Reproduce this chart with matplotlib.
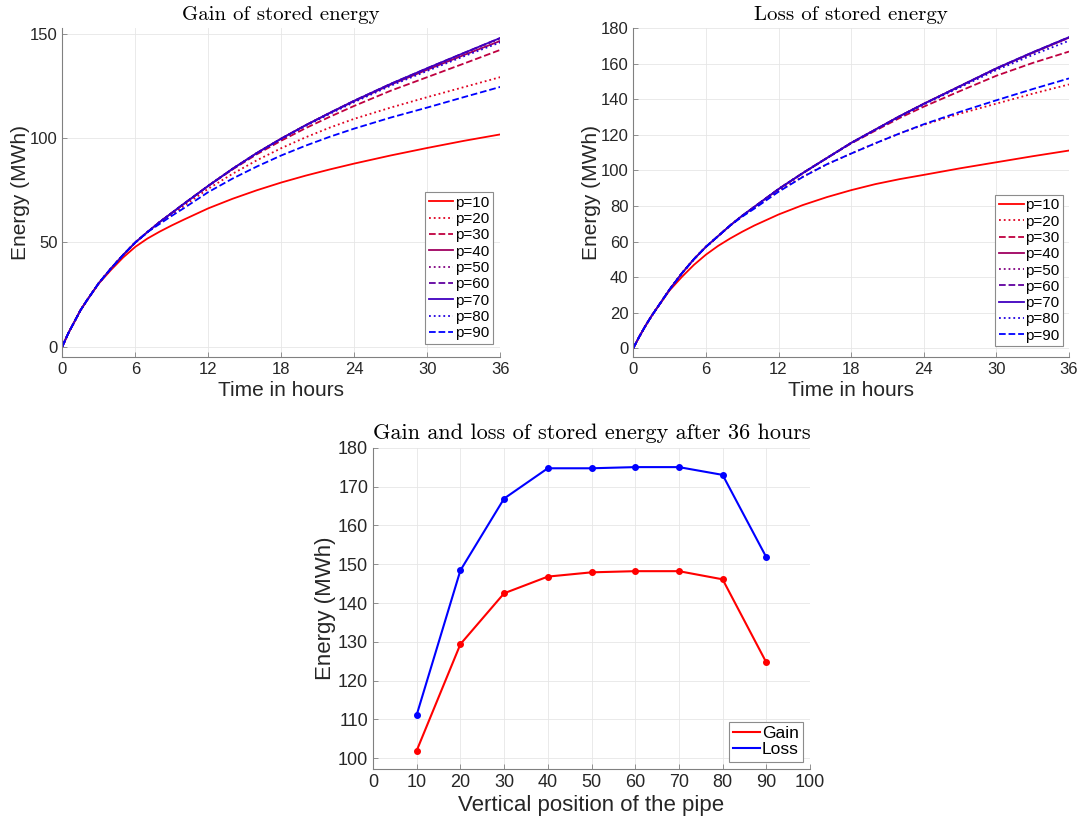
import matplotlib
matplotlib.use("Agg")
import matplotlib.pyplot as plt
from matplotlib.lines import Line2D

# ---------------- data ----------------
t_hours = [0, 0.5, 1, 1.5, 2, 3, 4, 5, 6, 7, 8, 9, 10, 12, 14, 16, 18, 20, 22, 24, 27, 30, 33, 36]
labels = ["p=10", "p=20", "p=30", "p=40", "p=50", "p=60", "p=70", "p=80", "p=90"]

gain_p10 = [0, 6.5, 12, 17.5, 22, 30.3, 36.8, 42.8, 47.9, 51.9, 55.2, 58.2, 61.0, 66.4, 71.0, 75.1, 78.8, 82.1, 85.1, 87.9, 91.8, 95.4, 98.8, 101.9]
gain_p20 = [0, 6.5, 12, 17.5, 22, 30.5, 37.5, 44, 50, 55, 59.6, 63.5, 67.6, 75.8, 83.0, 89.5, 95.3, 100.5, 105.2, 109.4, 114.8, 119.8, 124.6, 129.4]
gain_p30 = [0, 6.5, 12, 17.5, 22, 30.5, 37.5, 44, 50, 55, 59.8, 64.2, 68.6, 77.2, 85.1, 92.4, 98.9, 104.9, 110.4, 115.6, 122.9, 129.4, 135.9, 142.5]
gain_p40 = [0, 6.5, 12, 17.5, 22, 30.5, 37.5, 44, 50, 55, 59.8, 64.2, 68.6, 77.2, 85.4, 93.0, 99.9, 106.3, 112.2, 117.9, 125.8, 133.0, 140.0, 146.8]
gain_p50 = [0, 6.5, 12, 17.5, 22, 30.5, 37.5, 44, 50, 55, 59.8, 64.2, 68.6, 77.2, 85.4, 93.0, 99.9, 106.3, 112.3, 118.0, 126.1, 133.5, 140.8, 147.9]
gain_p60 = [0, 6.5, 12, 17.5, 22, 30.5, 37.5, 44, 50, 55, 59.8, 64.2, 68.6, 77.2, 85.4, 93.0, 99.9, 106.3, 112.3, 118.1, 126.2, 133.7, 141.0, 148.2]
gain_p70 = [0, 6.5, 12, 17.5, 22, 30.5, 37.5, 44, 50, 55, 59.8, 64.2, 68.6, 77.2, 85.4, 93.0, 99.9, 106.3, 112.3, 118.1, 126.2, 133.7, 141.0, 148.2]
gain_p80 = [0, 6.5, 12, 17.5, 22, 30.5, 37.5, 44, 50, 55, 59.8, 64.2, 68.6, 77.2, 85.4, 92.9, 99.7, 106.0, 111.8, 117.4, 125.3, 132.4, 139.4, 146.1]
gain_p90 = [0, 6.5, 12, 17.5, 22, 30.5, 37.5, 44, 50, 55, 58.9, 62.8, 66.5, 74.2, 80.7, 86.5, 91.8, 96.5, 100.8, 104.7, 110.0, 114.8, 119.8, 124.7]

loss_p10 = [0, 6.5, 12.5, 18, 23, 32.5, 40.0, 46.8, 52.6, 57.5, 61.7, 65.5, 69.0, 75.2, 80.5, 85.0, 88.9, 92.3, 95.1, 97.5, 101.2, 104.6, 108.0, 111.2]
loss_p20 = [0, 6.5, 12.5, 18, 23, 33, 42, 50, 57, 63, 69, 74.3, 79.0, 88.5, 96.5, 103.5, 109.5, 115.3, 120.8, 125.7, 132.0, 137.6, 143.2, 148.4]
loss_p30 = [0, 6.5, 12.5, 18, 23, 33, 42, 50, 57, 63, 69, 74.5, 79.5, 89.5, 98.5, 107.0, 115.2, 122.4, 129.5, 135.9, 144.7, 153.3, 160.5, 166.9]
loss_p40 = [0, 6.5, 12.5, 18, 23, 33, 42, 50, 57, 63, 69, 74.5, 79.5, 89.5, 98.5, 107.0, 115.5, 123.0, 130.5, 137.5, 147.4, 157.3, 166.2, 174.7]
loss_p50 = [0, 6.5, 12.5, 18, 23, 33, 42, 50, 57, 63, 69, 74.5, 79.5, 89.5, 98.5, 107.0, 115.5, 123.0, 130.5, 137.5, 147.4, 157.3, 166.2, 174.7]
loss_p60 = [0, 6.5, 12.5, 18, 23, 33, 42, 50, 57, 63, 69, 74.5, 79.5, 89.5, 98.5, 107.0, 115.5, 123.0, 130.5, 137.5, 147.5, 157.5, 166.5, 175.0]
loss_p70 = [0, 6.5, 12.5, 18, 23, 33, 42, 50, 57, 63, 69, 74.5, 79.5, 89.5, 98.5, 107.0, 115.5, 123.0, 130.5, 137.5, 147.5, 157.5, 166.5, 175.0]
loss_p80 = [0, 6.5, 12.5, 18, 23, 33, 42, 50, 57, 63, 69, 74.5, 79.5, 89.5, 98.5, 107.0, 115.4, 122.8, 130.2, 137.1, 146.8, 156.5, 165.0, 173.0]
loss_p90 = [0, 6.5, 12.5, 18, 23, 33, 42, 50, 57, 63, 69, 74.0, 78.5, 88.0, 96.3, 103.5, 109.5, 115.3, 120.8, 126.0, 133.0, 139.5, 145.8, 151.8]

positions = [10, 20, 30, 40, 50, 60, 70, 80, 90]
gain_36h = [102.0, 129.4, 142.5, 146.8, 147.9, 148.2, 148.2, 146.1, 124.7]
loss_36h = [111.2, 148.4, 166.9, 174.7, 174.7, 175.0, 175.0, 173.0, 151.8]

gain_series = [gain_p10, gain_p20, gain_p30, gain_p40, gain_p50, gain_p60, gain_p70, gain_p80, gain_p90]
loss_series = [loss_p10, loss_p20, loss_p30, loss_p40, loss_p50, loss_p60, loss_p70, loss_p80, loss_p90]

# ---------------- style ----------------
line_colors = [(1.0, 0, 0.0), (0.875, 0, 0.125), (0.75, 0, 0.25), (0.625, 0, 0.375),
               (0.5, 0, 0.5), (0.375, 0, 0.625), (0.25, 0, 0.75), (0.125, 0, 0.875), (0.0, 0, 1.0)]
line_styles = ["-", ":", "--"] * 3

SANS = ["Liberation Sans", "DejaVu Sans"]
SERIF = ["cmr10", "DejaVu Serif"]
TXT = (0.15, 0.15, 0.15)
plt.rcParams["font.family"] = SANS
plt.rcParams["axes.unicode_minus"] = False

W, H = 1079, 821
fig = plt.figure(figsize=(W / 100, H / 100), dpi=100)


def ax_at(x0, x1, ytop, ybot):
    return fig.add_axes([x0 / W, 1 - ybot / H, (x1 - x0) / W, (ybot - ytop) / H])


def style(ax, tsize):
    for s in ["top", "right"]:
        ax.spines[s].set_visible(False)
    for s in ["left", "bottom"]:
        ax.spines[s].set_color((0.5, 0.5, 0.5))
        ax.spines[s].set_linewidth(0.8)
    ax.tick_params(direction="in", length=3.5, width=0.6, colors=(0.5, 0.5, 0.5),
                   labelcolor=TXT, labelsize=tsize, pad=3.5)
    ax.grid(True, color=(0.9, 0.9, 0.9), linewidth=0.6)
    ax.set_axisbelow(True)


def make_legend(ax, handles, dx, dy, fsize, hlen, lspace):
    leg = ax.legend(handles=handles, loc="lower right", bbox_to_anchor=(1 - dx, dy),
                    borderaxespad=0, fontsize=fsize, fancybox=False, framealpha=1,
                    edgecolor=(0.55, 0.55, 0.55), handlelength=hlen, handletextpad=0.1,
                    labelspacing=lspace, borderpad=0.25)
    leg.get_frame().set_linewidth(0.8)
    return leg


def curves(ax, series, ylim, yticks, title):
    handles = []
    for s, c, ls, lab in zip(series, line_colors, line_styles, labels):
        ax.plot(t_hours, s, color=c, linestyle=ls, linewidth=1.3)
        handles.append(Line2D([], [], color=c, linestyle=ls, linewidth=1.3, label=lab))
    ax.set_xlim(0, 36)
    ax.set_ylim(*ylim)
    ax.set_xticks([0, 6, 12, 18, 24, 30, 36])
    ax.set_yticks(yticks)
    style(ax, 12)
    ax.set_xlabel("Time in hours", fontsize=15, color=TXT, labelpad=3)
    ax.set_ylabel("Energy (MWh)", fontsize=15, color=TXT, labelpad=0)
    ax.set_title(title, fontsize=15, family=SERIF, color="black", pad=6)
    return handles


ax1 = ax_at(62.3, 500.3, 28, 357)
h1 = curves(ax1, gain_series, (-5, 153), [0, 50, 100, 150], "Gain of stored energy")
make_legend(ax1, h1, 7.6 / 438, 13 / 329, 11, 1.6, 0.15)

ax2 = ax_at(633.3, 1069, 28.3, 357)
h2 = curves(ax2, loss_series, (-5, 180), list(range(0, 181, 20)), "Loss of stored energy")
make_legend(ax2, h2, 5.7 / 435.7, 10.5 / 328.7, 11, 1.6, 0.15)

ax3 = ax_at(373, 810, 447.7, 769)
ax3.plot(positions, gain_36h, color="red", marker="o", markersize=4, linewidth=1.5)
ax3.plot(positions, loss_36h, color="blue", marker="o", markersize=4, linewidth=1.5)
ax3.set_xlim(0, 100)
ax3.set_ylim(97.25, 180)
ax3.set_xticks(range(0, 101, 10))
ax3.set_yticks(range(100, 181, 10))
style(ax3, 13)
ax3.set_xlabel("Vertical position of the pipe", fontsize=16, color=TXT, labelpad=3)
ax3.set_ylabel("Energy (MWh)", fontsize=16, color=TXT, labelpad=1)
ax3.set_title("Gain and loss of stored energy after 36 hours", fontsize=16, family=SERIF,
              color="black", pad=6)
h3 = [Line2D([], [], color="red", linewidth=1.5, label="Gain"),
      Line2D([], [], color="blue", linewidth=1.5, label="Loss")]
make_legend(ax3, h3, 6.7 / 437, 7.3 / 321.3, 12.5, 1.55, 0.05)

fig.savefig("out.png", dpi=100)
